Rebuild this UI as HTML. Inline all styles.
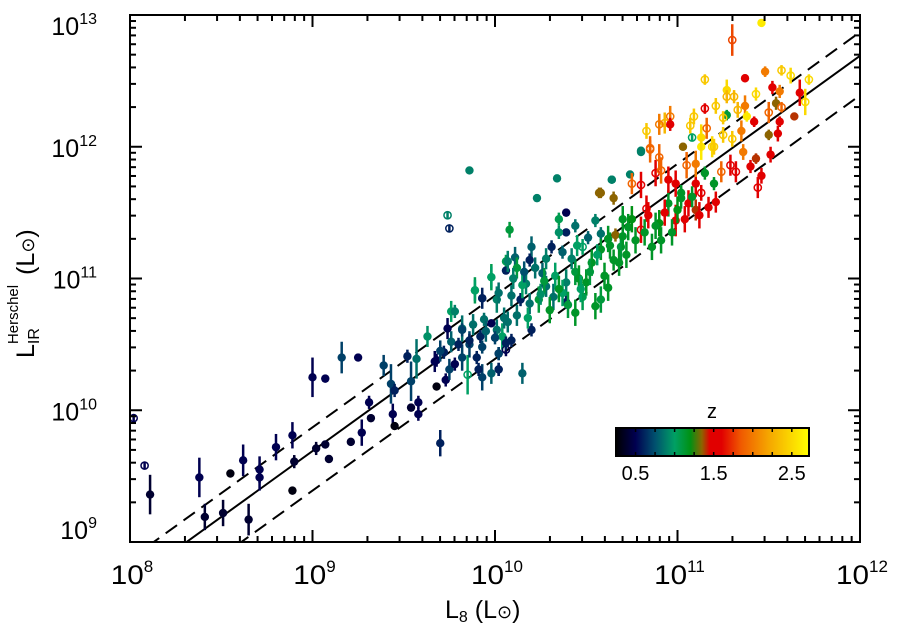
<!DOCTYPE html>
<html><head><meta charset="utf-8"><style>
html,body{margin:0;padding:0;background:#fff;}
svg{display:block;font-family:"Liberation Sans",sans-serif;}
</style></head><body>
<svg id="chart" width="898" height="638" viewBox="0 0 898 638" xmlns="http://www.w3.org/2000/svg">
<defs>
<linearGradient id="zgrad" x1="0" x2="1" y1="0" y2="0"></linearGradient>
<clipPath id="plotclip"><rect x="130" y="15" width="731" height="527"/></clipPath>
</defs>
<g id="lines" clip-path="url(#plotclip)"></g>
<g id="pts" clip-path="url(#plotclip)"></g>
<g id="axes"></g>
<g id="cbar"></g>
<text x="445" y="618" font-size="25">L<tspan font-size="16" dy="4">8</tspan><tspan dy="-4"> (L</tspan><tspan font-size="18">⊙</tspan>)</text>
<text transform="translate(34,358) rotate(-90)" font-size="25">L<tspan font-size="16" dy="5">IR</tspan><tspan font-size="15" dx="-16" dy="-21">Herschel</tspan><tspan dy="16" dx="10">(L</tspan><tspan font-size="18">⊙</tspan>)</text>
</svg>
<script>
const xTicks = [8, 9, 10, 11, 12];
const yTicks = [9, 10, 11, 12, 13];
const zTickLabels = ["0.5", "1.5", "2.5"];
const zTickValues = [0.5, 1.5, 2.5];
const fitOffsets = [0.69, 0.87, 0.39];
const logL8 = [
8.11,8.08,8.02,8.38,8.41,8.51,8.55,8.62,8.65,8.71,
8.71,8.80,8.89,8.89,8.90,9.00,9.07,9.02,9.07,9.09,
9.16,9.25,9.21,9.27,9.31,9.32,9.39,9.43,9.44,9.45,
9.45,9.52,9.54,9.54,9.58,9.58,9.57,9.63,9.67,9.68,
9.70,9.73,9.72,9.74,9.76,9.76,9.75,9.82,9.82,9.85,
9.86,9.89,9.93,9.94,9.93,9.91,9.92,9.98,9.98,10.01,
10.02,10.02,10.04,10.06,10.06,10.06,9.86,9.74,9.75,10.34,
10.23,10.08,10.64,10.80,10.74,10.57,10.65,10.39,10.35,10.39,
10.44,10.55,10.58,10.51,10.20,10.31,10.37,10.48,10.07,10.11,
10.12,10.19,10.26,9.98,9.89,9.93,10.02,10.09,10.17,10.24,
10.32,10.39,10.39,10.44,10.53,10.58,10.65,10.66,10.69,10.73,
10.77,10.80,10.86,10.91,10.90,10.99,11.06,11.10,11.17,11.21,
11.13,11.02,10.95,10.83,10.75,10.80,10.88,10.91,10.95,10.99,
11.02,11.10,11.15,11.20,11.24,11.05,11.10,11.03,11.13,11.19,
10.85,10.62,10.70,10.68,10.62,10.55,10.50,10.58,10.48,10.44,
10.37,10.30,10.28,10.19,10.12,10.07,10.14,10.06,10.09,10.01,
10.02,10.20,10.15,10.02,9.86,9.82,9.93,9.78,9.68,11.46,
11.30,11.48,11.57,11.62,11.72,11.37,11.15,11.27,11.27,11.31,
11.43,11.52,11.56,11.67,11.70,11.54,11.57,11.15,11.21,11.33,
11.37,11.38,11.27,11.25,11.09,11.07,10.96,10.93,10.90,10.96,
10.83,11.42,11.56,11.50,11.64,11.16,11.35,11.25,11.30,11.55,
11.50,11.08,11.13,10.80,10.85,11.20,11.36,11.43,11.51,10.90,
11.40,11.46,11.44,11.29,11.32,10.64,10.58,9.98,
10.10,10.15,10.22,10.27,10.33,10.35,10.42,10.46,10.52,10.56,
10.60,10.63,10.70,10.72,10.75,10.82,10.84,10.88,10.93,10.97,
11.00,11.04,11.08,11.12,10.05,10.00,9.95,9.90,9.88,9.80,
9.78,9.70,10.18,10.25,10.40,10.47,10.28,10.16,10.35,10.45];
const logLIR = [
9.36,9.58,9.94,9.49,9.19,9.22,9.52,9.62,9.17,9.55,
9.49,9.72,9.81,9.39,9.61,10.25,10.24,9.71,9.74,9.63,
10.40,10.40,9.76,9.83,10.06,9.94,10.34,10.20,9.97,9.88,
10.15,10.41,10.22,10.02,10.06,9.97,10.39,10.56,10.37,10.18,
9.75,10.23,10.44,10.62,10.75,10.52,10.31,10.62,10.40,10.27,
10.50,10.91,10.85,10.69,10.25,10.31,10.56,11.01,10.66,10.84,
10.43,10.31,10.56,11.13,11.06,10.46,11.82,11.48,11.38,11.76,
11.61,11.37,11.75,11.96,11.79,11.65,11.61,11.50,11.45,11.35,
11.40,11.44,11.34,11.31,11.24,11.24,11.20,11.24,11.13,11.16,
11.08,11.14,11.04,11.01,10.91,10.85,10.89,10.87,10.96,10.84,
10.86,10.97,10.82,11.05,11.12,11.22,11.14,11.33,11.24,11.39,
11.29,11.37,11.24,11.29,11.42,11.44,11.57,11.52,11.54,11.58,
11.65,11.61,11.57,11.53,11.72,11.71,11.80,11.82,11.75,11.72,
11.65,11.72,11.80,11.72,11.81,11.86,11.87,12.00,12.00,12.00,
11.99,11.30,11.45,11.12,10.93,10.79,10.97,10.84,10.86,10.74,
10.89,10.76,10.94,10.81,10.72,10.67,10.84,10.51,10.53,10.61,
10.43,10.61,10.28,10.31,10.53,10.61,10.48,10.75,10.38,12.94,
12.81,12.57,12.58,12.54,12.51,12.52,12.51,12.43,12.38,12.38,
12.40,12.45,12.42,12.41,12.34,12.33,12.30,12.29,12.31,12.28,
12.31,12.23,12.24,12.22,12.23,12.16,12.23,12.18,12.17,12.17,
12.12,12.19,12.19,12.26,12.23,12.14,12.12,12.09,12.06,12.10,
12.09,12.07,12.07,11.97,11.98,12.00,11.96,11.91,11.94,11.92,
11.85,11.78,11.69,11.86,11.81,11.75,11.65,10.28,
11.00,10.95,11.08,10.98,11.02,10.92,11.15,11.00,11.05,11.18,
11.02,11.25,11.32,11.18,11.45,11.35,11.48,11.40,11.50,11.35,
11.52,11.45,11.62,11.48,10.70,10.55,10.60,10.40,10.65,10.50,
10.35,10.45,10.70,10.88,10.80,10.92,11.15,11.05,11.35,11.25];
const redshift = [
0.4,0.5,0.5,0.5,0.4,0.4,0.3,0.5,0.4,0.5,
0.5,0.5,0.5,0.3,0.4,0.5,0.5,0.4,0.4,0.4,
0.7,0.5,0.4,0.5,0.5,0.4,0.7,0.7,0.5,0.3,
0.6,0.6,0.7,0.4,0.5,0.5,0.85,0.95,0.5,0.3,
0.6,0.5,0.6,0.5,1.0,0.8,0.7,0.85,0.7,1.0,
0.7,1.05,0.6,0.85,0.7,0.6,0.6,1.05,0.5,0.9,
0.5,0.6,1.0,1.05,0.6,0.5,0.9,0.9,0.6,0.9,
0.9,1.1,0.9,0.9,0.9,1.35,1.35,0.5,1.05,0.6,
0.85,0.9,0.85,0.8,0.8,0.6,0.8,1.0,0.9,0.8,
1.1,0.6,0.8,1.0,1.0,0.6,0.85,0.85,0.9,1.1,
0.85,0.9,0.6,1.1,1.15,1.15,1.15,1.35,1.1,1.15,
1.15,1.5,1.15,1.15,1.2,1.5,1.5,1.4,1.5,1.5,
1.55,1.15,1.15,1.6,1.9,1.55,1.55,1.9,1.5,1.5,
1.15,1.5,1.15,1.15,1.9,1.9,2.0,1.35,2.6,2.5,
1.9,1.15,1.15,1.15,1.15,1.15,1.15,1.1,1.05,1.15,
1.0,1.15,0.85,0.85,0.85,0.85,0.6,0.6,0.6,0.85,
0.7,0.6,0.8,0.6,0.6,0.7,0.7,0.9,0.5,2.6,
1.8,2.0,2.4,2.5,2.5,1.5,2.4,2.5,2.3,2.3,
2.5,1.5,2.0,1.45,2.5,1.35,1.9,1.6,2.4,2.3,
2.0,2.6,1.1,2.4,2.4,2.4,2.0,2.3,2.0,1.5,
2.4,1.5,1.5,1.9,1.4,1.9,2.0,2.4,2.4,1.5,
1.35,1.0,2.5,0.9,1.9,2.4,2.0,1.4,1.5,1.9,
1.5,1.45,1.5,1.5,1.5,0.9,1.35,0.8,
0.9,1.0,0.85,1.1,1.0,1.15,0.9,1.15,1.1,1.0,
1.15,1.15,1.15,1.15,1.2,1.15,1.5,1.15,1.55,1.15,
1.2,1.5,1.15,1.5,0.85,0.7,0.8,0.6,0.85,0.6,
0.5,0.7,1.0,0.95,1.1,1.0,0.9,0.75,0.95,1.0];
const openSym = [
0,1,1,0,0,0,0,0,0,0, 0,0,0,0,0,0,0,0,0,0, 0,0,0,0,0,0,0,0,0,0,
0,0,0,0,0,0,0,0,0,0, 0,0,0,0,0,0,0,0,0,1, 0,0,0,0,0,0,0,0,0,0,
0,0,0,0,0,1,0,1,1,0, 0,0,0,0,0,0,0,0,0,0, 0,0,0,0,0,0,0,1,0,0,
0,0,0,0,0,0,0,0,0,0, 0,0,0,0,0,0,0,0,0,0, 0,1,0,0,0,0,0,0,0,0,
1,0,0,1,1,1,1,1,0,0, 0,0,0,0,1,1,0,0,0,1, 1,0,0,0,0,0,0,0,0,0,
0,0,0,0,0,0,0,0,0,0, 0,0,0,0,0,0,0,0,0,0, 1,0,1,1,1,0,1,0,1,1,
1,0,0,0,1,0,1,1,1,1, 0,0,0,1,1,1,1,1,1,0, 1,0,0,1,0,1,0,1,1,0,
0,1,0,0,1,1,0,0,0,1, 0,0,1,1,1,0,0,0,
0,0,0,0,0,0,0,0,0,0, 0,0,0,0,0,0,0,0,0,0, 0,0,0,0,0,0,0,0,0,0, 0,0,0,0,0,0,0,0,0,0];
const errDex = [
0.15,0.03,0.03,0.15,0.1,0.1,0.03,0.12,0.12,0.1,
0.1,0.1,0.1,0.03,0.05,0.15,0.03,0.05,0.03,0.03,
0.12,0.03,0.03,0.1,0.05,0.03,0.08,0.15,0.08,0.03,
0.05,0.05,0.15,0.03,0.05,0.05,0.15,0.08,0.08,0.03,
0.1,0.05,0.05,0.08,0.08,0.08,0.08,0.1,0.1,0.15,
0.1,0.1,0.08,0.05,0.1,0.05,0.05,0.1,0.03,0.1,
0.05,0.05,0.1,0.05,0.03,0.05,0.02,0.03,0.03,0.02,
0.02,0.06,0.02,0.02,0.03,0.04,0.05,0.03,0.05,0.03,
0.05,0.05,0.05,0.05,0.08,0.05,0.05,0.06,0.08,0.08,
0.08,0.05,0.08,0.08,0.08,0.05,0.08,0.08,0.08,0.1,
0.1,0.1,0.05,0.1,0.1,0.08,0.08,0.05,0.1,0.1,
0.1,0.1,0.1,0.1,0.1,0.12,0.1,0.08,0.08,0.08,
0.06,0.08,0.1,0.1,0.08,0.1,0.1,0.1,0.1,0.1,
0.06,0.1,0.05,0.05,0.08,0.1,0.1,0.03,0.1,0.08,
0.06,0.1,0.1,0.1,0.1,0.1,0.1,0.1,0.1,0.1,
0.1,0.1,0.08,0.08,0.08,0.08,0.05,0.05,0.05,0.08,
0.05,0.05,0.08,0.05,0.05,0.05,0.05,0.05,0.05,0.03,
0.12,0.04,0.04,0.06,0.04,0.03,0.04,0.08,0.05,0.05,
0.05,0.05,0.05,0.1,0.1,0.05,0.04,0.04,0.06,0.06,
0.08,0.04,0.04,0.05,0.06,0.06,0.08,0.08,0.08,0.05,
0.06,0.04,0.04,0.08,0.03,0.08,0.08,0.06,0.06,0.06,
0.04,0.03,0.1,0.03,0.1,0.06,0.06,0.04,0.06,0.1,
0.05,0.06,0.08,0.08,0.08,0.03,0.04,0.08,
0.08,0.1,0.08,0.1,0.1,0.1,0.08,0.1,0.1,0.08,
0.1,0.1,0.1,0.1,0.1,0.1,0.1,0.1,0.1,0.1,
0.1,0.1,0.08,0.1,0.08,0.05,0.08,0.05,0.08,0.05,
0.05,0.08,0.08,0.08,0.1,0.1,0.08,0.08,0.05,0.08];

const NS = "http://www.w3.org/2000/svg";
const X0 = 130, X1 = 860, Y0 = 542, Y1 = 15;
const xMin = 8, xMax = 12, yMin = 9, yMax = 13;
function sx(v){ return X0 + (v - xMin) / (xMax - xMin) * (X1 - X0); }
function sy(v){ return Y0 - (v - yMin) / (yMax - yMin) * (Y0 - Y1); }
const zMin = 0.25, zMax = 2.72;
const cStops = [[0.25,[0,0,0]],[0.5,[0,0,80]],[0.75,[0,80,110]],[1.0,[0,160,100]],[1.2,[0,145,20]],[1.35,[140,100,0]],[1.45,[225,0,0]],[1.6,[225,0,0]],[1.85,[240,90,0]],[2.2,[245,165,0]],[2.72,[255,255,0]]];
function zcol(z){
  if (z <= cStops[0][0]) return "rgb(0,0,0)";
  for (let i=1;i<cStops.length;i++){
    if (z <= cStops[i][0]){
      const a=cStops[i-1], b=cStops[i], t=(z-a[0])/(b[0]-a[0]);
      const c=a[1].map((v,k)=>Math.round(v+(b[1][k]-v)*t));
      return "rgb("+c.join(",")+")";
    }
  }
  return "rgb(255,255,0)";
}
function mk(tag, attrs, parent){
  const e = document.createElementNS(NS, tag);
  for (const k in attrs) e.setAttribute(k, attrs[k]);
  parent.appendChild(e);
  return e;
}
const lines = document.getElementById("lines");
fitOffsets.forEach((o,i)=>{
  const l = mk("line", {x1:sx(8), y1:sy(8+o), x2:sx(12), y2:sy(12+o), stroke:"#000", "stroke-width":2, "stroke-dasharray": i===0?"none":"14 8"}, lines);
  
  
});
const pts = document.getElementById("pts");
for (let i=0;i<logL8.length;i++){
  const g = mk("g", {}, pts);
  
  
  const c = zcol(redshift[i]);
  const cx = sx(logL8[i]), cy = sy(logLIR[i]);
  mk("line", {x1:cx, x2:cx, y1:sy(logLIR[i]+errDex[i]), y2:sy(logLIR[i]-errDex[i]), stroke:c, "stroke-width":2.5}, g);
  if (openSym[i]) {
    mk("circle", {cx:cx, cy:cy, r:3.6, fill:"none", stroke:c, "stroke-width":1.5}, g);
    mk("line", {x1:cx, x2:cx, y1:cy-4, y2:cy+4, stroke:c, "stroke-width":1.5}, g);
  } else {
    mk("circle", {cx:cx, cy:cy, r:4.2, fill:c}, g);
  }
}
const ax = document.getElementById("axes");
const frame = mk("rect", {x:X0, y:Y1, width:X1-X0, height:Y0-Y1, fill:"none", stroke:"#000", "stroke-width":2}, ax);


function tickSet(ticks, isX){
  for (let d=0; d<ticks.length; d++){
    for (let m=1; m<=9; m++){
      if (d===ticks.length-1 && m>1) break;
      const v = ticks[d] + Math.log10(m);
      const L = m===1 ? 12 : 6;
      if (isX){
        const p = sx(v);
        mk("line",{x1:p,x2:p,y1:Y0,y2:Y0-L,stroke:"#000","stroke-width":2},ax);
        mk("line",{x1:p,x2:p,y1:Y1,y2:Y1+L,stroke:"#000","stroke-width":2},ax);
      } else {
        const p = sy(v);
        mk("line",{x1:X0,x2:X0+L,y1:p,y2:p,stroke:"#000","stroke-width":2},ax);
        mk("line",{x1:X1,x2:X1-L,y1:p,y2:p,stroke:"#000","stroke-width":2},ax);
      }
    }
  }
}
tickSet(xTicks, true);
tickSet(yTicks, false);
xTicks.forEach(t=>{
  const tx = mk("text",{x:sx(t)+2, y:584, "font-size":27, "text-anchor":"middle"}, ax);
  
  
  tx.innerHTML = '<tspan textLength="33" lengthAdjust="spacingAndGlyphs">10</tspan><tspan font-size="17" dy="-12">'+t+'</tspan>';
});
yTicks.forEach((t,i)=>{
  let yy = sy(t) + 10;
  if (i===yTicks.length-1) yy = sy(t) + 20;
  if (i===0) yy = sy(t) - 3;
  const ty = mk("text",{x:97, y:yy, "font-size":25, "text-anchor":"end"}, ax);
  
  
  ty.innerHTML = '<tspan>10</tspan><tspan font-size="16" dy="-11">'+t+'</tspan>';
});
const grad = document.getElementById("zgrad");
cStops.forEach(s=>{
  mk("stop",{offset:((s[0]-zMin)/(zMax-zMin)).toFixed(3), "stop-color":zcol(s[0])}, grad);
});
const cb = document.getElementById("cbar");
const CX0=616, CX1=809, CY0=428, CY1=456;
function zx(z){ return CX0 + (z-zMin)/(zMax-zMin)*(CX1-CX0); }
const cr = mk("rect",{x:CX0,y:CY0,width:CX1-CX0,height:CY1-CY0,fill:"url(#zgrad)",stroke:"#000","stroke-width":2},cb);


for (let z=0.5; z<2.72; z+=0.25){
  mk("line",{x1:zx(z),x2:zx(z),y1:CY0,y2:CY0+4,stroke:"#000","stroke-width":1.5},cb);
  mk("line",{x1:zx(z),x2:zx(z),y1:CY1,y2:CY1-4,stroke:"#000","stroke-width":1.5},cb);
}
zTickLabels.forEach((lab,i)=>{
  const t = mk("text",{x:zx(zTickValues[i]), y:480, "font-size":20, "text-anchor":"middle"}, cb);
  
  
  t.textContent = lab;
});
const zt = mk("text",{x:712, y:418, "font-size":20, "text-anchor":"middle"}, cb);


zt.textContent = "z";
</script>
</body></html>
